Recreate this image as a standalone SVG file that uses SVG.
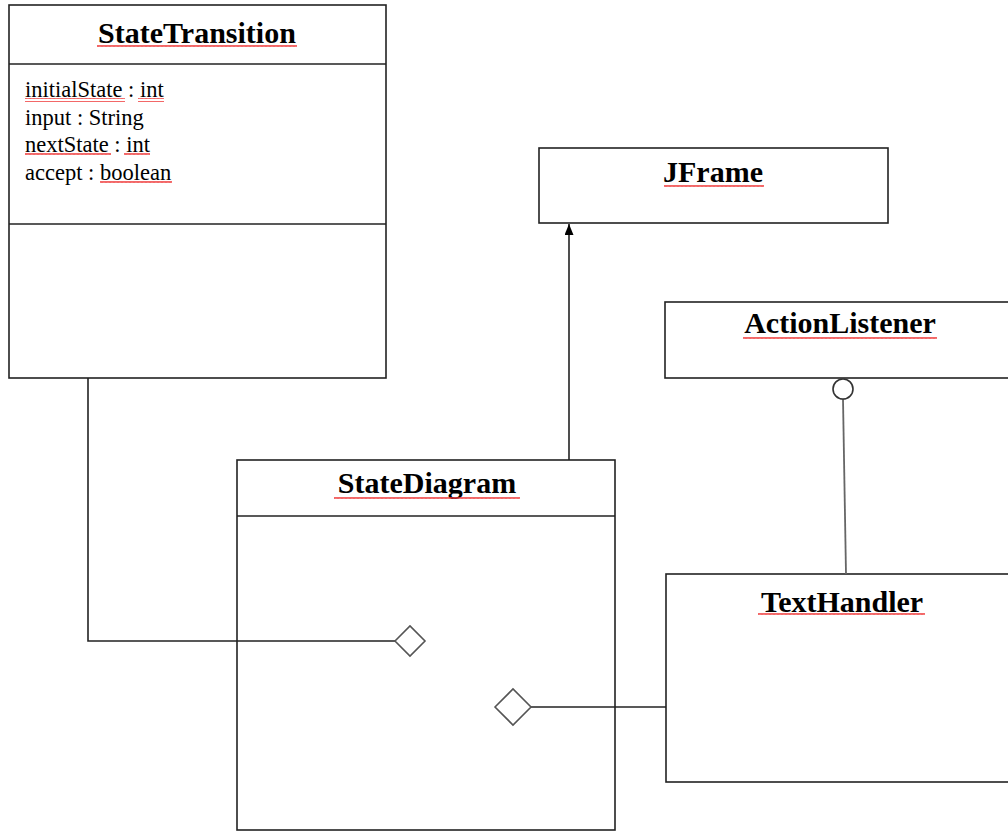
<svg xmlns="http://www.w3.org/2000/svg" width="1008" height="831" viewBox="0 0 1008 831">
<style>
.box{fill:#fff;stroke:#222;stroke-width:1.6}
.sep{stroke:#222;stroke-width:1.6}
.title{font-family:"Liberation Serif","Times New Roman",serif;font-weight:bold;font-size:30px;fill:#000;text-anchor:middle}
.attr{font-family:"Liberation Serif","Times New Roman",serif;font-size:22.5px;fill:#000}
.conn{fill:none;stroke:#222;stroke-width:1.6}
.squig{fill:url(#wave)}
</style>
<defs>
<pattern id="wave" width="4" height="4" patternUnits="userSpaceOnUse">
<path d="M0,3 L1,1 L2,3 L3,1 L4,3" fill="none" stroke="#e33" stroke-width="0.9"/>
</pattern>
<marker id="arrow" markerWidth="11" markerHeight="9" refX="11" refY="4.5" orient="auto" markerUnits="userSpaceOnUse" viewBox="0 0 11 9">
<path d="M0,0 L11,4.5 L0,9 Z" fill="#000"/>
</marker>
</defs>

<g id="StateTransition">
<rect class="box" x="9" y="5" width="377" height="373"/>
<line class="sep" x1="9" y1="64" x2="386" y2="64"/>
<line class="sep" x1="9" y1="224" x2="386" y2="224"/>
<text class="title" x="197" y="43">StateTransition</text>
<rect class="squig" x="97" y="44" width="200" height="4"/>
<text class="attr" x="25" y="97">initialState : int</text>
<text class="attr" x="25" y="125">input : String</text>
<text class="attr" x="25" y="152">nextState : int</text>
<text class="attr" x="25" y="180">accept : boolean</text>
<rect class="squig" x="25" y="98" width="100" height="4"/>
<rect class="squig" x="138" y="98" width="26" height="4"/>
<rect class="squig" x="25" y="153" width="86" height="4"/>
<rect class="squig" x="124" y="153" width="26" height="4"/>
<rect class="squig" x="100" y="181" width="72" height="4"/>
</g>

<g id="JFrame">
<rect class="box" x="539" y="148" width="349" height="75"/>
<text class="title" x="713" y="182">JFrame</text>
<rect class="squig" x="664" y="183" width="100" height="4"/>
</g>

<g id="ActionListener">
<rect class="box" x="665" y="302" width="345" height="76"/>
<text class="title" x="840" y="333">ActionListener</text>
<rect class="squig" x="743" y="335" width="194" height="4"/>
</g>

<g id="StateDiagram">
<rect class="box" x="237" y="460" width="378" height="370"/>
<line class="sep" x1="237" y1="516" x2="615" y2="516"/>
<text class="title" x="427" y="493">StateDiagram</text>
<rect class="squig" x="334" y="495" width="186" height="4"/>
</g>

<g id="TextHandler">
<rect class="box" x="666" y="574" width="344" height="208"/>
<text class="title" x="842" y="612">TextHandler</text>
<rect class="squig" x="758" y="613" width="167" height="4"/>
</g>

<g id="connectors">
<line class="conn" x1="569" y1="460" x2="569" y2="224" marker-end="url(#arrow)"/>
<path class="conn" d="M88,378 L88,641 L395,641"/>
<path d="M395,641 L410,626 L425,641 L410,656 Z" fill="#fff" stroke="#555" stroke-width="1.6"/>
<line class="conn" x1="530" y1="707" x2="666" y2="707"/>
<path d="M495,707 L513,689 L531,707 L513,725 Z" fill="#fff" stroke="#555" stroke-width="1.6"/>
<line x1="843" y1="399" x2="846" y2="574" stroke="#666" stroke-width="1.8"/>
<circle cx="843" cy="389" r="10" fill="#fff" stroke="#333" stroke-width="1.6"/>
</g>
</svg>
